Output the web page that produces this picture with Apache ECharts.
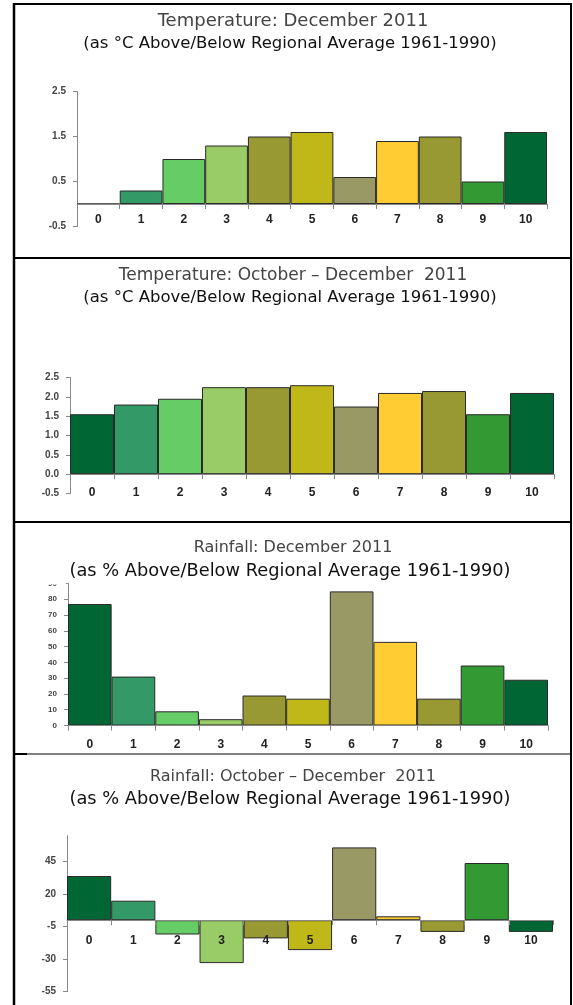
<!DOCTYPE html>
<html>
<head>
<meta charset="utf-8">
<script src="https://cdn.jsdelivr.net/npm/echarts@6/dist/echarts.min.js"></script>
<style>
html,body{margin:0;padding:0;background:#fff;}
#c{width:573px;height:1005px;}
</style>
</head>
<body>
<div id="c"></div>
<script>
// ---- data ----
const categories = ['0','1','2','3','4','5','6','7','8','9','10'];
const tempDec = [0, 0.3, 1.0, 1.3, 1.5, 1.6, 0.6, 1.4, 1.5, 0.5, 1.6];
const tempOND = [1.55, 1.8, 1.95, 2.25, 2.25, 2.3, 1.75, 2.1, 2.15, 1.55, 2.1];
const rainDec = [77, 31, 9, 4, 19, 17, 85, 53, 17, 38, 29];
const rainOND = [34, 15, -11, -33, -14, -23, 56, 3, -9, 44, -9];
const barColors = ['#006633','#339966','#66cc66','#99cc66','#999933','#c0b818','#999966','#ffcc33','#999933','#339933','#006633'];
const titles = [
  ['Temperature: December 2011', '(as \u00B0C Above/Below Regional Average 1961-1990)'],
  ['Temperature: October \u2013 December  2011', '(as \u00B0C Above/Below Regional Average 1961-1990)'],
  ['Rainfall: December 2011', '(as % Above/Below Regional Average 1961-1990)'],
  ['Rainfall: October \u2013 December  2011', '(as % Above/Below Regional Average 1961-1990)']
];
const yTicks1 = {min:-0.5, max:2.5, interval:1};
const yTicks2 = {min:-0.5, max:2.5, interval:0.5};
const yTicks3 = {min:0, max:90, interval:10};
const yTicks4 = {min:-55, max:65, interval:25};

// ---- layout ----
const grids = [
  {left:77, top:91.5, width:470, height:135},
  {left:70, top:377.5, width:484, height:116},
  {left:68, top:583.5, width:480, height:142},
  {left:67, top:835.7, width:486, height:156}
];
const labelCenterY = [220, 493, 745, 941];
const titleY = [[21,44],[276,298],[548,571],[777,799]];
const titleSize = [18, 17, 16, 16];
const subSize = [16.5, 16.5, 17.8, 17.8];
const yLabelSize = [10,10,8,10];
const yAxesCfg = [yTicks1,yTicks2,yTicks3,yTicks4];
const seriesData = [tempDec,tempOND,rainDec,rainOND];
const decimals = [1,1,0,0];

const chart = echarts.init(document.getElementById('c'), null, {renderer:'canvas'});

const xAxis = [], yAxis = [], series = [];
for (let i=0;i<4;i++){
  const g = grids[i];
  const gridBottom = g.top + g.height;
  xAxis.push({
    type:'category', gridIndex:i, data:categories, z:10,
    axisLine:{onZero:true, lineStyle:{color:'#888', width:1}},
    axisTick:{show:true, length:5, lineStyle:{color:'#888'}},
    axisLabel:{fontFamily:'Liberation Sans, Arial', fontWeight:'bold', fontSize:12, color:'#222',
      margin: labelCenterY[i] - gridBottom - 6, verticalAlign:'top', lineHeight:12}
  });
  const yc = yAxesCfg[i];
  yAxis.push({
    type:'value', gridIndex:i, min:yc.min, max:yc.max, interval:yc.interval,
    splitLine:{show:false},
    axisLine:{show:true, lineStyle:{color:'#888', width:1}},
    axisTick:{show:true, length:4, lineStyle:{color:'#888'}},
    axisLabel:{fontFamily:'Liberation Sans, Arial', fontWeight:'bold', fontSize:yLabelSize[i], color:'#444', margin:11,
      showMaxLabel: i===3 ? false : true,
      formatter:(function(d){return function(v){return Number(v).toFixed(d);};})(decimals[i])}
  });
  series.push({
    type:'bar', xAxisIndex:i, yAxisIndex:i, barCategoryGap:'0%',
    data: seriesData[i].map((v,k)=>({value:v, itemStyle:{color:barColors[k]}})),
    itemStyle:{borderColor:'#2a2a2a', borderWidth:1},
    emphasis:{disabled:true}, silent:true
  });
}

const graphic = [];
for (let i=0;i<4;i++){
  graphic.push({type:'text', x:293, y:titleY[i][0], z:100,
    style:{text:titles[i][0], align:'center', verticalAlign:'middle', textAlign:'center', textVerticalAlign:'middle',
      fontFamily:'DejaVu Sans', fontSize:titleSize[i], fill:'#444'}});
  graphic.push({type:'text', x:290, y:titleY[i][1], z:100,
    style:{text:titles[i][1], align:'center', verticalAlign:'middle', textAlign:'center', textVerticalAlign:'middle',
      fontFamily:'DejaVu Sans', fontSize:subSize[i], fill:'#111'}});
}
// frame
const frame = [
  [14,3,14,1005,2.5],[13,4,572,4,2],[571,3,571,1005,2],
  [14,258,572,258,2],[14,522,572,522,2],[14,754,572,754,1],[14,754,27,754,2]
];
frame.forEach(f=>graphic.push({type:'line', z:100, shape:{x1:f[0],y1:f[1],x2:f[2],y2:f[3]}, style:{stroke:'#000', lineWidth:f[4]}}));
// clip top of panel-3 "90" label like reference
graphic.push({type:'rect', z:90, shape:{x:30,y:576,width:36,height:8.5}, style:{fill:'#fff'}});

chart.setOption({
  animation:false,
  backgroundColor:'#fff',
  grid:grids,
  xAxis:xAxis, yAxis:yAxis, series:series,
  graphic:graphic
});
</script>
</body>
</html>
